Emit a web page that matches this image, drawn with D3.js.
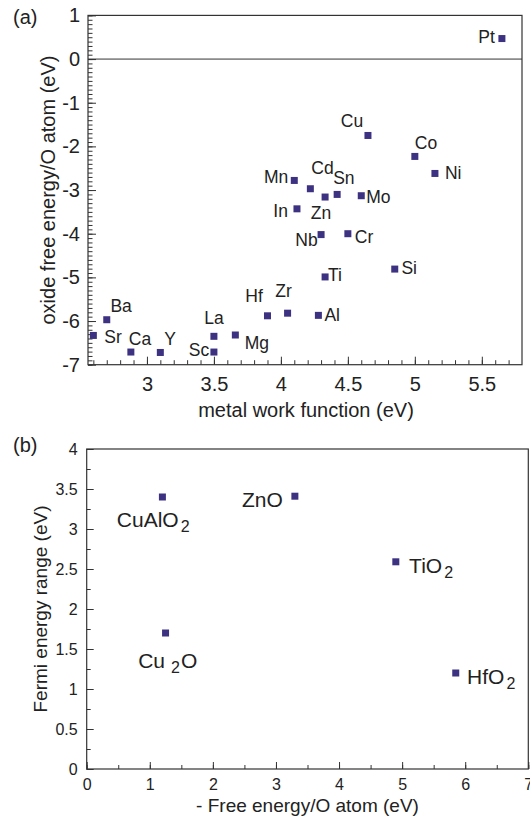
<!DOCTYPE html>
<html>
<head>
<meta charset="utf-8">
<script src="https://cdn.jsdelivr.net/npm/d3@7"></script>
<style>
	body { margin: 0; background: #fff; }
	svg { display: block; font-family: "Liberation Sans", Arial, Helvetica, sans-serif; }
	.tick text { fill: #222; }
	.tick line { stroke: #333; }
</style>
</head>
<body>
<svg id="fig" width="530" height="817"></svg>
<script>
// (a) metals: work function vs oxide free energy per O atom
const metals = ['Pt', 'Cu', 'Co', 'Ni', 'Mn', 'Cd', 'Sn', 'Zn', 'Mo', 'In', 'Nb', 'Cr', 'Si', 'Ti',
	'Zr', 'Hf', 'Al', 'Ba', 'Sr', 'Ca', 'Y', 'La', 'Sc', 'Mg']
const workFunction = [5.65, 4.65, 5.0, 5.15, 4.1, 4.22, 4.42, 4.33, 4.6, 4.12, 4.3, 4.5, 4.85, 4.33,
	4.05, 3.9, 4.28, 2.7, 2.6, 2.88, 3.1, 3.5, 3.5, 3.66]
const oxideEnergy = [0.47, -1.75, -2.23, -2.62, -2.78, -2.97, -3.1, -3.16, -3.13, -3.43, -4.02, -4.0, -4.81, -4.99,
	-5.82, -5.88, -5.87, -5.97, -6.33, -6.71, -6.72, -6.35, -6.71, -6.32]

// (b) oxides: -free energy vs Fermi energy range
const oxides = ['CuAlO2', 'ZnO', 'TiO2', 'Cu2O', 'HfO2']
const freeEnergy = [1.2, 3.3, 4.9, 1.25, 5.85]
const fermiRange = [3.4, 3.41, 2.59, 1.7, 1.2]

const ticksA_x = [3, 3.5, 4, 4.5, 5, 5.5]
const ticksA_y = [-7, -6, -5, -4, -3, -2, -1, 0, 1]
const ticksB_x = [0, 1, 2, 3, 4, 5, 6, 7]
const ticksB_y = [0, 0.5, 1, 1.5, 2, 2.5, 3, 3.5, 4]

// label placement next to each marker: [dx, dy, anchor]
const metalLabelPos = {
	Pt: [-7, 4.6, 'end'], Cu: [-16, -8, 'middle'], Co: [0, -7, 'start'], Ni: [10, 6, 'start'],
	Mn: [-6, 3, 'end'], Cd: [1, -15, 'start'], Sn: [-4, -10, 'start'], Zn: [-4, 22, 'middle'],
	Mo: [5, 7.6, 'start'], In: [-9, 8.6, 'end'], Nb: [-3.4, 11.4, 'end'], Cr: [7, 9.4, 'start'],
	Si: [6.7, 4.6, 'start'], Ti: [3, 4, 'start'], Zr: [-4, -16, 'middle'], Hf: [-4.7, -13.6, 'end'],
	Al: [6, 6, 'start'], Ba: [3.7, -7.6, 'start'], Sr: [11, 7.7, 'start'], Ca: [-2, -6.7, 'start'],
	Y: [4, -7, 'start'], La: [0, -12.7, 'middle'], Sc: [-4.7, 4.3, 'end'], Mg: [9.3, 13.6, 'start']
}
const oxideLabelPos = {
	CuAlO2: [-45.6, 30, 'start'], ZnO: [-12, 11, 'end'], TiO2: [13.3, 11.6, 'start'],
	Cu2O: [-27.4, 35, 'start'], HfO2: [11.3, 10.6, 'start']
}

const MARK = '#3d3282'
const INK = '#222'
const svg = d3.select('#fig')

function panel(o) {
	const x = d3.scaleLinear().domain(o.xDomain).range([o.left, o.right])
	const y = d3.scaleLinear().domain(o.yDomain).range([o.bottom, o.top])
	const g = svg.append('g')

	// minor ticks first, then majors with labels
	g.append('g').attr('transform', `translate(0,${o.bottom})`)
		.call(d3.axisBottom(x).tickValues(o.xMinor).tickSize(-o.minorLen).tickSizeOuter(0).tickFormat(''))
	g.append('g').attr('transform', `translate(${o.left},0)`)
		.call(d3.axisLeft(y).tickValues(o.yMinor).tickSize(-o.minorLen).tickSizeOuter(0).tickFormat(''))
	g.append('g').attr('transform', `translate(0,${o.bottom})`)
		.call(d3.axisBottom(x).tickValues(o.xTicks).tickSize(-o.majorLen).tickSizeOuter(0)
			.tickPadding(o.xPad).tickFormat(d => String(d)))
		.attr('font-size', o.tickFont).attr('font-family', null)
	g.append('g').attr('transform', `translate(${o.left},0)`)
		.call(d3.axisLeft(y).tickValues(o.yTicks).tickSize(-o.majorLen).tickSizeOuter(0)
			.tickPadding(o.yPad).tickFormat(d => String(d)))
		.attr('font-size', o.tickFont).attr('font-family', null)
	g.selectAll('.domain').remove()

	g.append('rect')
		.attr('x', o.left).attr('y', o.top)
		.attr('width', o.right - o.left).attr('height', o.bottom - o.top)
		.attr('fill', 'none').attr('stroke', '#333').attr('stroke-width', 1.2)

	g.append('text')
		.attr('x', (o.left + o.right) / 2 + o.xTitleShift).attr('y', o.xTitleY)
		.attr('text-anchor', 'middle').attr('font-size', o.titleFont).attr('fill', INK)
		.text(o.xTitle)
	g.append('text')
		.attr('transform', `translate(${o.yTitleX},${(o.top + o.bottom) / 2 + o.yTitleShift}) rotate(-90)`)
		.attr('text-anchor', 'middle').attr('font-size', o.titleFont).attr('fill', INK)
		.text(o.yTitle)
	g.append('text')
		.attr('x', 13).attr('y', o.tagY)
		.attr('font-size', 20).attr('fill', INK)
		.text(o.tag)

	return { g, x, y }
}

// ---- (a)
const A = panel({
	left: 88, right: 522, top: 15.4, bottom: 364.7,
	xDomain: [2.56, 5.8], yDomain: [-7, 1],
	xTicks: ticksA_x, yTicks: ticksA_y,
	xMinor: d3.range(26, 58).map(d => d / 10), yMinor: d3.range(-70, 11).map(d => d / 10),
	majorLen: 8, minorLen: 4.5, xPad: 12, yPad: 8, tickFont: 20,
	xTitle: 'metal work function (eV)', xTitleY: 417, xTitleShift: 1,
	yTitle: 'oxide free energy/O atom (eV)', yTitleX: 55, yTitleShift: 0,
	titleFont: 20, tag: '(a)', tagY: 24
})

A.g.append('line')
	.attr('x1', A.x(2.56)).attr('x2', A.x(5.8))
	.attr('y1', A.y(0)).attr('y2', A.y(0))
	.attr('stroke', '#333').attr('stroke-width', 1)

const metalRows = metals.map((m, i) => ({ name: m, wf: workFunction[i], e: oxideEnergy[i] }))

A.g.append('g').selectAll('rect')
	.data(metalRows)
	.join('rect')
	.attr('x', d => A.x(d.wf) - 3.5).attr('y', d => A.y(d.e) - 3.5)
	.attr('width', 7).attr('height', 7).attr('fill', MARK)

A.g.append('g').selectAll('text')
	.data(metalRows)
	.join('text')
	.attr('x', d => A.x(d.wf) + metalLabelPos[d.name][0])
	.attr('y', d => A.y(d.e) + metalLabelPos[d.name][1])
	.attr('text-anchor', d => metalLabelPos[d.name][2])
	.attr('font-size', 17.5).attr('fill', INK)
	.text(d => d.name)

// ---- (b)
const B = panel({
	left: 86.7, right: 528.3, top: 449, bottom: 769,
	xDomain: [0, 7], yDomain: [0, 4],
	xTicks: ticksB_x, yTicks: ticksB_y,
	xMinor: d3.range(0, 15).map(d => d / 2), yMinor: d3.range(0, 17).map(d => d / 4),
	majorLen: 7, minorLen: 4, xPad: 9.5, yPad: 9, tickFont: 16,
	xTitle: '- Free energy/O atom (eV)', xTitleY: 812, xTitleShift: 0,
	yTitle: 'Fermi energy range (eV)', yTitleX: 47, yTitleShift: 0,
	titleFont: 19, tag: '(b)', tagY: 452
})

const oxideRows = oxides.map((m, i) => ({ name: m, fe: freeEnergy[i], r: fermiRange[i] }))

B.g.append('g').selectAll('rect')
	.data(oxideRows)
	.join('rect')
	.attr('x', d => B.x(d.fe) - 3.5).attr('y', d => B.y(d.r) - 3.5)
	.attr('width', 7).attr('height', 7).attr('fill', MARK)

// chemical formulas: digits become subscripts
B.g.append('g').selectAll('text')
	.data(oxideRows)
	.join('text')
	.attr('x', d => B.x(d.fe) + oxideLabelPos[d.name][0])
	.attr('y', d => B.y(d.r) + oxideLabelPos[d.name][1])
	.attr('text-anchor', d => oxideLabelPos[d.name][2])
	.attr('font-size', 21).attr('fill', INK)
	.each(function (d) {
		const t = d3.select(this)
		const parts = d.name.match(/[A-Za-z]+|\d+/g)
		let sub = false
		parts.forEach(p => {
			const isNum = /\d/.test(p)
			const ts = t.append('tspan').text(p)
			if (isNum) {
				ts.attr('font-size', 16).attr('dy', 5).attr('dx', d.name === 'Cu2O' ? 6 : 2)
				sub = true
			} else if (sub) {
				ts.attr('dy', -5).attr('dx', d.name === 'Cu2O' ? 1 : 0)
				sub = false
			}
		})
	})
</script>
</body>
</html>
